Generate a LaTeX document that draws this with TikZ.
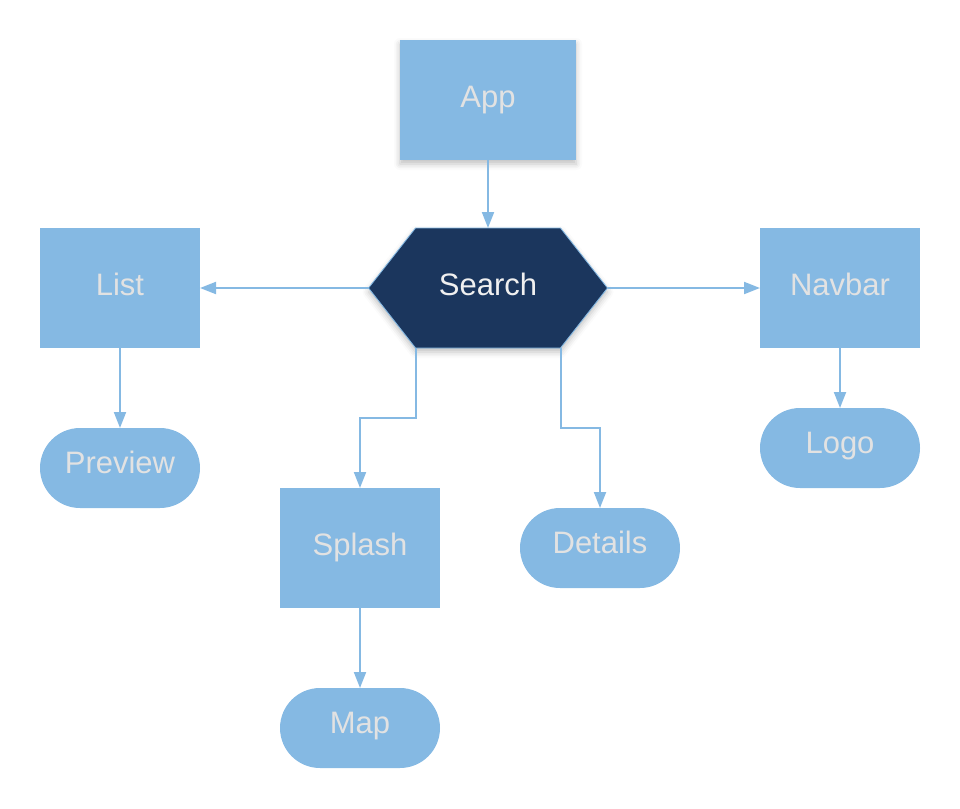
\documentclass[tikz,border=0pt]{standalone}
\usepackage{fontspec}
\setmainfont{Liberation Sans}
\usetikzlibrary{arrows.meta,shadows.blur,backgrounds}
\definecolor{boxblue}{HTML}{85B9E3}
\definecolor{navy}{HTML}{1B365D}
\definecolor{labelgray}{HTML}{E2E2E2}
\tikzset{
        every node/.style={font=\fontsize{31}{37}\selectfont, text height=22pt, text depth=8pt, inner sep=0pt, outer sep=0pt},
        box/.style={rectangle, fill=boxblue, text=labelgray, minimum width=160pt, minimum height=120pt},
        pill/.style={rectangle, rounded corners=40pt, fill=boxblue, text=labelgray, minimum width=160pt, minimum height=80pt, text depth=12pt},
        hex/.style={text=white!94!black, minimum width=239pt, minimum height=120pt},
        hexfill/.style={fill=navy, draw=boxblue, line width=0.3mm},
        softshadow/.style={blur shadow={shadow xshift=0pt, shadow yshift=-4pt, shadow blur radius=6pt, shadow opacity=25}},
        link/.style={draw=boxblue, line width=0.7mm, -{Triangle[length=16pt,width=12pt]}}
          }
\begin{document}
\begin{tikzpicture}[x=1pt, y=-1pt]
            \useasboundingbox (0,0) rectangle (960,808);
            \node[box, softshadow, minimum width=176pt] (app) at (488,100) {App};
            \node[hex] (search) at (488,288) {Search};
            \begin{scope}[on background layer]
              \path[hexfill, softshadow] ([xshift=47pt]search.north west) -- ([xshift=-47pt]search.north east)
                -- (search.east) -- ([xshift=-47pt]search.south east)
                -- ([xshift=47pt]search.south west) -- (search.west) -- cycle;
            \end{scope}
            \node[box] (list) at (120,288) {List};
            \node[box] (navbar) at (840,288) {Navbar};
            \node[pill] (preview) at (120,468) {Preview};
            \node[pill] (logo) at (840,448) {Logo};
            \node[box] (splash) at (360,548) {Splash};
            \node[pill] (details) at (600,548) {Details};
            \node[pill] (map) at (360,728) {Map};
            \draw[link] (app.south) -- (app.south |- search.north);
            \draw[link] (search.west) -- (list.east);
            \draw[link] (search.east) -- (navbar.west);
            \draw[link] (list.south) -- (list.south |- preview.north);
            \draw[link] (navbar.south) -- (navbar.south |- logo.north);
            \draw[link] ([xshift=47pt]search.south west) -- ++(0,70) -| (splash.north);
            \draw[link] ([xshift=-47pt]search.south east) -- ++(0,80) -| (details.north);
            \draw[link] (splash.south) -- (splash.south |- map.north);
          \end{tikzpicture}
\end{document}
